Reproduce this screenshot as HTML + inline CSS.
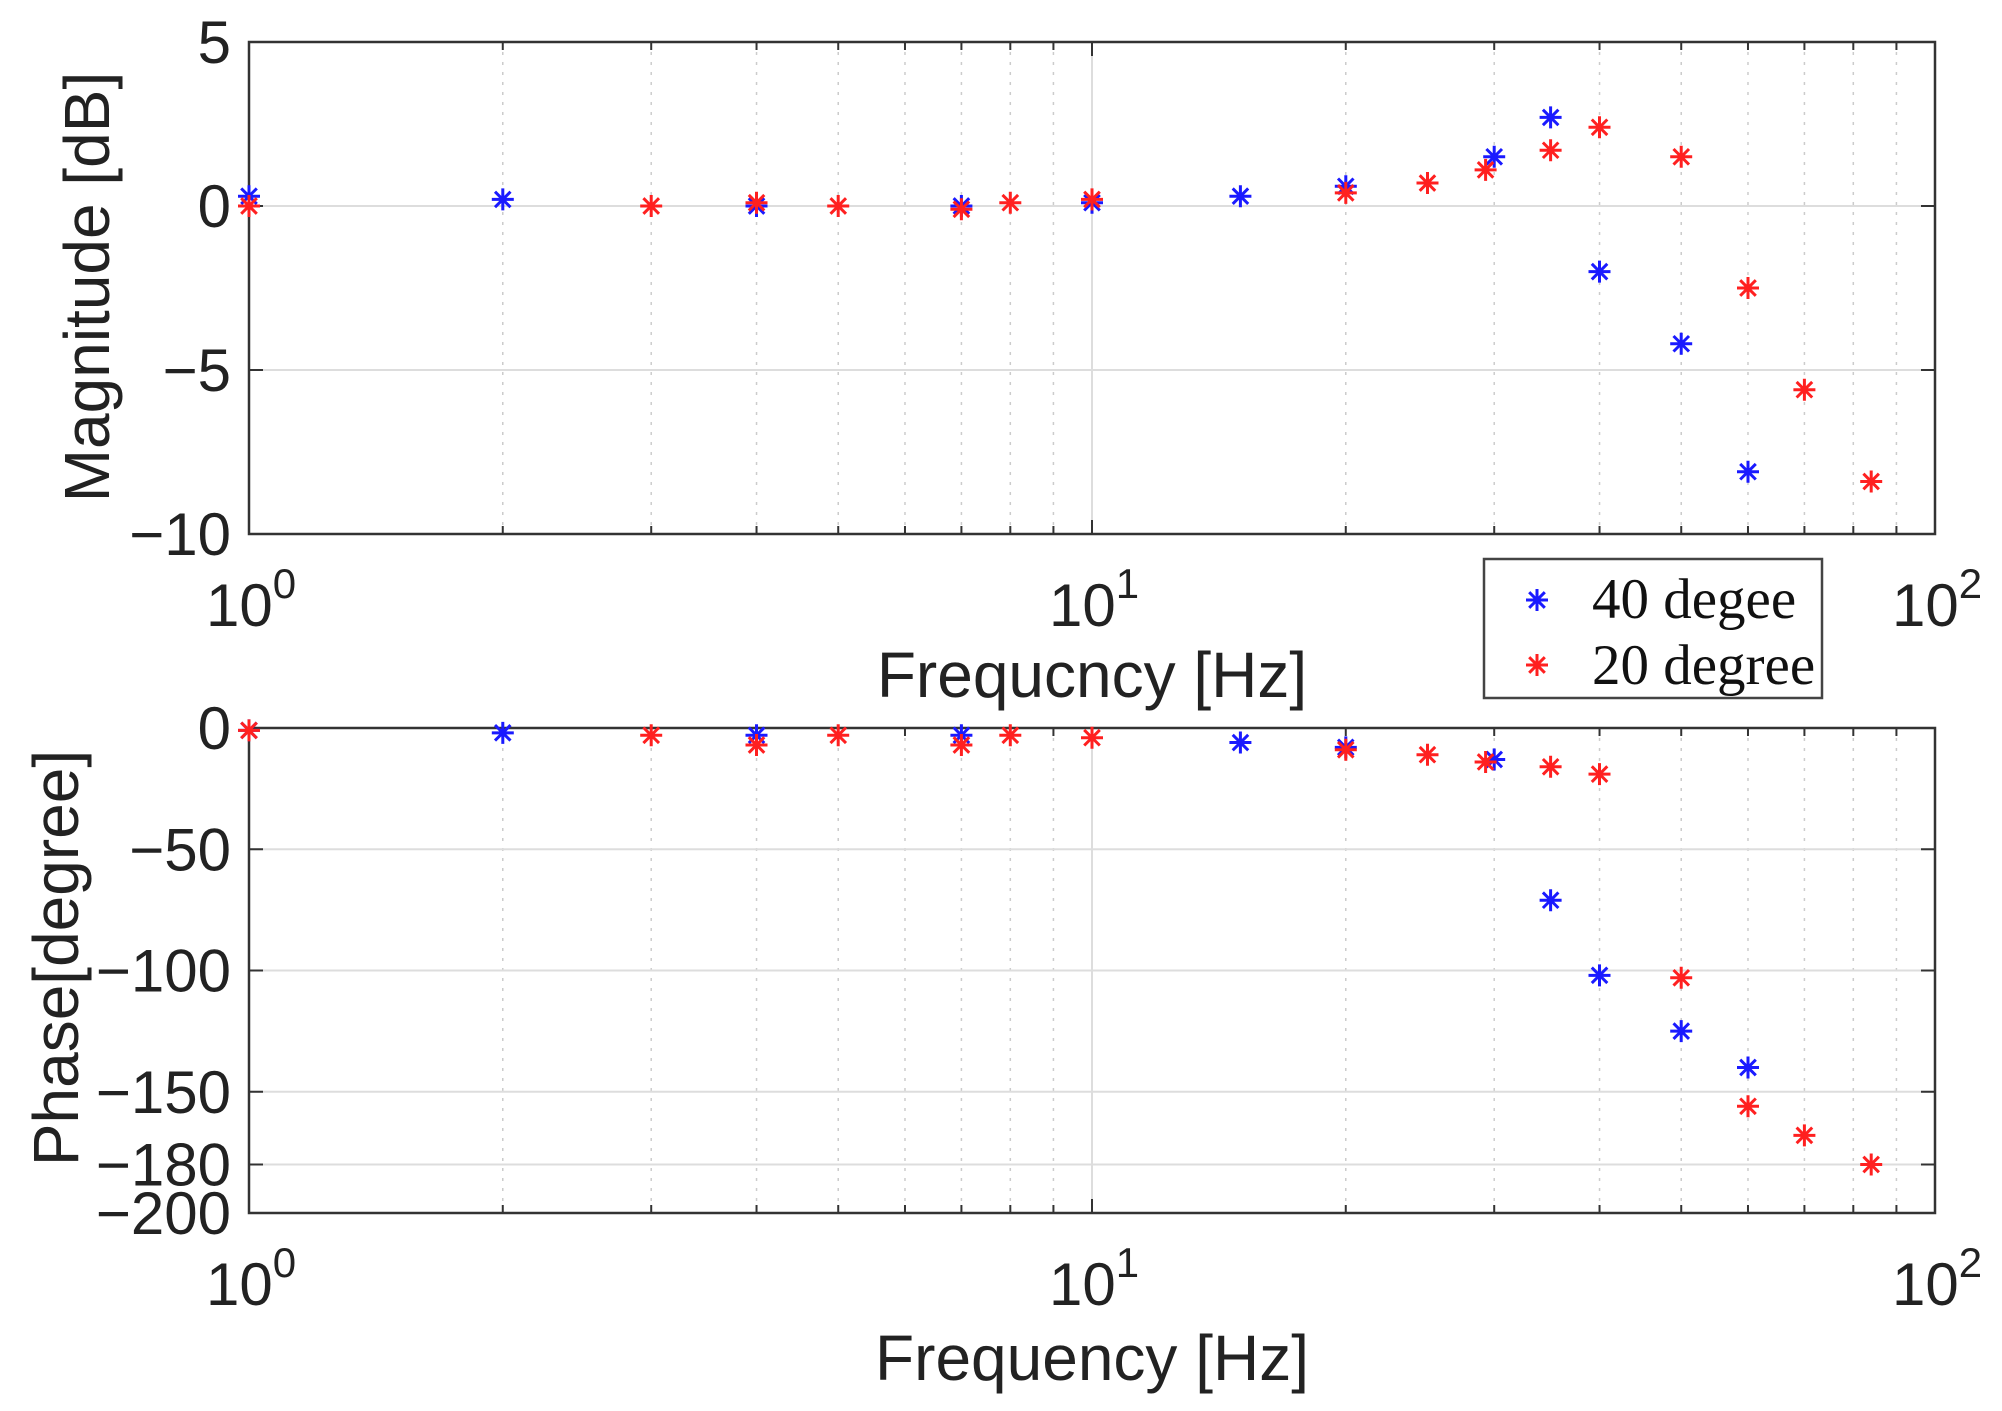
<!DOCTYPE html>
<html><head><meta charset="utf-8"><style>
html,body{margin:0;padding:0;background:#fff;}
svg{display:block;}
text{font-family:"Liberation Sans",sans-serif;fill:#222;}
.lg{font-family:"Liberation Serif",serif;fill:#111;}
</style></head><body>
<svg id="s" width="2002" height="1411" viewBox="0 0 2002 1411" xmlns="http://www.w3.org/2000/svg">
<rect width="2002" height="1411" fill="#fff"/>
<g id="g"></g>
<text x="92" y="287" font-size="64" text-anchor="middle" dominant-baseline="middle" transform="rotate(-90 92 287)">Magnitude [dB]</text>
<text x="61" y="958" font-size="64" text-anchor="middle" dominant-baseline="middle" transform="rotate(-90 61 958)">Phase[degree]</text>
<text x="1092" y="697" font-size="64" text-anchor="middle">Frequcncy [Hz]</text>
<text x="1092" y="1380" font-size="64" text-anchor="middle">Frequency [Hz]</text>
<rect x="1484" y="559" width="338" height="139" fill="#fff" stroke="#444" stroke-width="2.5"/>
<text class="lg" x="1592" y="618" font-size="57">40 degee</text>
<text class="lg" x="1592" y="684" font-size="57">20 degree</text>
<g id="g2"></g>
</svg>
<script>
const g=document.getElementById('g');let h='';
const L=249,R=1935,D=(R-L)/2;
const X=f=>L+Math.log10(f)*D;
function axes(T,B,ymin,ymax,ticks,labs){
  const Y=v=>T+(ymax-v)/(ymax-ymin)*(B-T);
  for(let d=0;d<2;d++)for(let k=2;k<=9;k++){const x=X(k*Math.pow(10,d));
    h+=`<line x1="${x}" y1="${T}" x2="${x}" y2="${B}" stroke="#ccc" stroke-width="1.5" stroke-dasharray="3,7"/>`;
    h+=`<line x1="${x}" y1="${T}" x2="${x}" y2="${T+8}" stroke="#333" stroke-width="2"/><line x1="${x}" y1="${B}" x2="${x}" y2="${B-8}" stroke="#333" stroke-width="2"/>`;}
  h+=`<line x1="${X(10)}" y1="${T}" x2="${X(10)}" y2="${B}" stroke="#ddd" stroke-width="2"/>`;
  ticks.forEach((v,i)=>{const y=Y(v);
    if(v!=ymin&&v!=ymax)h+=`<line x1="${L}" y1="${y}" x2="${R}" y2="${y}" stroke="#ddd" stroke-width="2"/>`;
    h+=`<line x1="${L}" y1="${y}" x2="${L+14}" y2="${y}" stroke="#333" stroke-width="2"/><line x1="${R}" y1="${y}" x2="${R-14}" y2="${y}" stroke="#333" stroke-width="2"/>`;
    h+=`<text x="${L-18}" y="${y+21}" font-size="60" text-anchor="end">${labs[i]}</text>`;});
  [0,1,2].forEach(d=>{const x=X(Math.pow(10,d));
    h+=`<line x1="${x}" y1="${T}" x2="${x}" y2="${T+14}" stroke="#333" stroke-width="2"/><line x1="${x}" y1="${B}" x2="${x}" y2="${B-14}" stroke="#333" stroke-width="2"/>`;
    h+=`<text x="${x-43}" y="${B+92}" font-size="60">10<tspan dy="-28" font-size="42">${d}</tspan></text>`;});
  h+=`<rect x="${L}" y="${T}" width="${R-L}" height="${B-T}" fill="none" stroke="#333" stroke-width="2.5"/>`;
  return Y;
}
function star(x,y,c){let s='';for(let a=0;a<180;a+=45){const r=a*Math.PI/180,dx=11*Math.sin(r),dy=11*Math.cos(r);
  s+=`M${(x-dx).toFixed(1)},${(y-dy).toFixed(1)}L${(x+dx).toFixed(1)},${(y+dy).toFixed(1)}`;}
  h+=`<path d="${s}" stroke="${c}" stroke-width="3" fill="none"/>`;}
const Y1=axes(42,534,-10,5,[5,0,-5,-10],['5','0','\u22125','\u221210']);
const Y2=axes(728,1213,-200,0,[0,-50,-100,-150,-180,-200],['0','\u221250','\u2212100','\u2212150','\u2212180','\u2212200']);
const B='#1a1aff',Rd='#ff2020';
const mb=[[1,.3],[2,.2],[4,0],[7,0],[10,.1],[15,.3],[20,.6],[30,1.5],[35,2.7],[40,-2],[50,-4.2],[60,-8.1]];
const mr=[[1,0],[3,0],[4,.1],[5,0],[7,-.1],[8,.1],[10,.2],[20,.4],[25,.7],[29.3,1.1],[35,1.7],[40,2.4],[50,1.5],[60,-2.5],[70,-5.6],[84,-8.4]];
const pb=[[1,-1],[2,-2],[4,-3],[7,-3],[15,-6],[20,-8],[30,-13],[35,-71],[40,-102],[50,-125],[60,-140]];
const pr=[[1,-1],[3,-3],[4,-7],[5,-3],[7,-7],[8,-3],[10,-4],[20,-9],[25,-11],[29.3,-14],[35,-16],[40,-19],[50,-103],[60,-156],[70,-168],[84,-180]];
mb.forEach(p=>star(X(p[0]),Y1(p[1]),B));mr.forEach(p=>star(X(p[0]),Y1(p[1]),Rd));
pb.forEach(p=>star(X(p[0]),Y2(p[1]),B));pr.forEach(p=>star(X(p[0]),Y2(p[1]),Rd));
g.innerHTML=h;
h='';star(1537,600,B);star(1537,665,Rd);
document.getElementById('g2').innerHTML=h;
</script>
</body></html>
